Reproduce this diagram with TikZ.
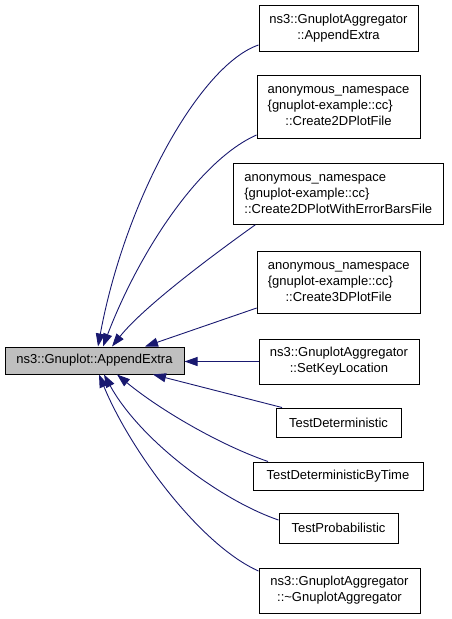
\documentclass[tikz,border=0pt]{standalone}
\usepackage{fontspec}
\setmainfont{Liberation Sans}
\usetikzlibrary{arrows.meta}
\definecolor{edgeblue}{RGB}{25,25,112}
\definecolor{maingrey}{RGB}{191,191,191}
\newcommand{\lline}[1]{\multicolumn{1}{@{}l@{}}{#1}}
\begin{document}
\begin{tikzpicture}[x=1pt,y=-1pt,
  box/.style={draw=black, line width=1pt, rectangle, inner sep=0pt, font=\fontsize{13}{16}\selectfont, align=center},
  edge/.style={draw=edgeblue, line width=0.9pt, -{Triangle[length=13pt,width=9pt]}}]
\useasboundingbox (0,0) rectangle (451,619);
\node[box, fill=maingrey, minimum width=179pt, minimum height=27pt] (main) at (94.5,360.5) {ns3::Gnuplot::AppendExtra};
\node[box, minimum width=159pt, minimum height=46pt] (n1) at (338.5,28) {\begin{tabular}{@{}c@{}}\lline{ns3::GnuplotAggregator}\\::AppendExtra\end{tabular}};
\node[box, minimum width=163pt, minimum height=63pt] (n2) at (338.5,106.5) {\begin{tabular}{@{}c@{}}\lline{anonymous\_namespace}\\\lline{\{gnuplot-example::cc\}}\\::Create2DPlotFile\end{tabular}};
\node[box, minimum width=210pt, minimum height=61pt] (n3) at (338.3,193.8) {\begin{tabular}{@{}c@{}}\lline{anonymous\_namespace}\\\lline{\{gnuplot-example::cc\}}\\::Create2DPlotWithErrorBarsFile\end{tabular}};
\node[box, minimum width=163pt, minimum height=62pt] (n4) at (338.7,282.5) {\begin{tabular}{@{}c@{}}\lline{anonymous\_namespace}\\\lline{\{gnuplot-example::cc\}}\\::Create3DPlotFile\end{tabular}};
\node[box, minimum width=160pt, minimum height=45pt] (n5) at (339,361.5) {\begin{tabular}{@{}c@{}}\lline{ns3::GnuplotAggregator}\\::SetKeyLocation\end{tabular}};
\node[box, minimum width=125pt, minimum height=29pt] (n6) at (338.5,422.5) {TestDeterministic};
\node[box, minimum width=170pt, minimum height=28pt] (n7) at (338,476) {TestDeterministicByTime};
\node[box, minimum width=119pt, minimum height=30pt] (n8) at (338.5,528) {TestProbabilistic};
\node[box, minimum width=161pt, minimum height=45pt] (n9) at (339.5,590.5) {\begin{tabular}{@{}c@{}}\lline{ns3::GnuplotAggregator}\\::\textasciitilde GnuplotAggregator\end{tabular}};
\draw[edge] ([yshift=-17pt]n1.west) .. controls (200,65) and (125,200) .. ([xshift=3.5pt]main.north);
\draw[edge] ([yshift=-28.5pt]n2.west) .. controls (200,160) and (140,250) .. ([xshift=8.5pt]main.north);
\draw[edge] ([xshift=-83pt]n3.south) .. controls (220,250) and (145,305) .. ([xshift=17.5pt]main.north);
\draw[edge] ([yshift=-25.5pt]n4.west) -- ([xshift=50.5pt]main.north);
\draw[edge] (n5.west) -- (n5.west -| main.east);
\draw[edge] ([xshift=-56.5pt]n6.north) -- ([xshift=58.5pt]main.south);
\draw[edge] ([xshift=-70pt]n7.north) .. controls (220,445) and (160,410) .. ([xshift=22.5pt]main.south);
\draw[edge] ([yshift=8pt]n8.west) .. controls (220,500) and (140,440) .. ([xshift=9.5pt]main.south);
\draw[edge] ([yshift=19.5pt]n9.west) .. controls (200,545) and (130,450) .. ([xshift=4.5pt]main.south);
\end{tikzpicture}
\end{document}
